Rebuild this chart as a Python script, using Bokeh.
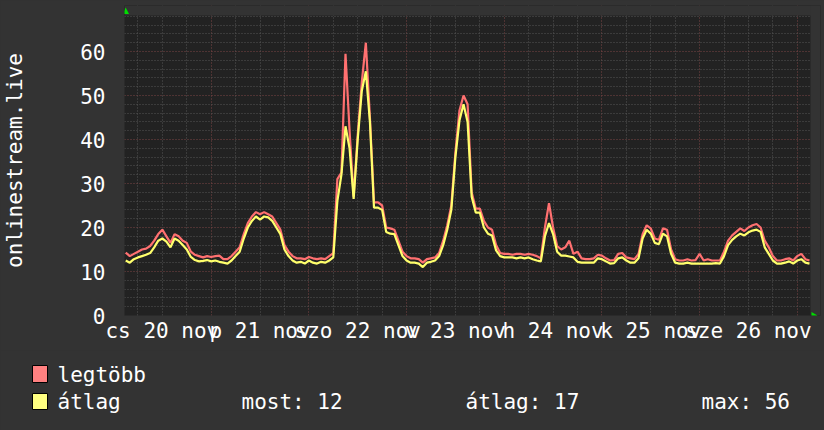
from bokeh.plotting import figure
from bokeh.models import Range1d, FixedTicker, AllLabels
from bokeh.layouts import column
from bokeh.core.properties import value
from bokeh.embed import file_html
from bokeh.resources import INLINE

# hours since 20 nov 00:00
hours = list(range(3, 172))

legtobb = [14.3, 13.5, 14, 14.5, 15, 15.2, 15.8, 17, 18.5, 19.5, 18, 16.5, 18.5, 18, 17, 16.5, 14.5, 13.8, 13.5, 13.2, 13.5, 13.3,
           13.5, 13.6, 12.8, 12.8, 13.5, 14.5, 15.5, 18.5, 21, 22.5, 23.5, 23, 23.5, 23, 22.5, 21, 19.5, 16, 14.5, 13.5, 13, 13, 12.8, 13.3,
           13, 12.8, 13, 12.8, 13.5, 14.2, 31, 32.5, 59.5, 42, 27, 41, 53, 62, 45, 25.7, 25.7, 25, 20, 19.8, 19.5, 17, 14.5, 13.5,
           13, 13, 12.8, 12, 12.8, 13, 13.2, 14.2, 17, 20.5, 25, 37, 46.6, 50, 48, 28, 24.3, 24.3, 21.5, 20, 19.5, 16, 14.2, 14,
           14, 13.8, 14, 14, 13.8, 14, 13.8, 13.5, 13, 20, 25.5, 20, 15.8, 15, 15.5, 17, 14, 14.5, 13, 12.8, 12.8, 13, 13.8, 13.6,
           13, 12.5, 12.6, 14, 14.2, 13.2, 13, 12.8, 14, 18.5, 20.5, 19.8, 17.5, 17.2, 19.8, 19.5, 15, 12.8, 12.5, 12.5, 12.8, 12.5,
           12.6, 14, 12.5, 12.8, 12.5, 12.5, 12.5, 14.5, 17, 18.2, 19, 19.8, 19.2, 20, 20.5, 20.8, 20, 17, 15.5, 13.5, 12.5, 12.5,
           12.8, 13, 12.5, 13.5, 14, 12.8, 12.5]

atlag = [12.5, 12.0, 12.8, 13.2, 13.5, 13.8, 14.2, 15.5, 17.0, 17.5, 16.8, 15.5, 17.5, 17.0, 16.0, 15.0, 13.3, 12.6, 12.3, 12.4,
         12.6, 12.3, 12.5, 12.2, 12.0, 11.8, 12.5, 13.5, 14.5, 17.5, 20.0, 21.5, 22.5, 21.8, 22.5, 22.3, 21.5, 20.0, 18.5, 15.0,
         13.5, 12.5, 12.0, 12.2, 11.8, 12.5, 12.0, 11.8, 12.2, 12.0, 12.5, 13.2, 26.0, 32.0, 43.0, 38.0, 26.5, 40.0, 51.0, 55.5,
         44.0, 24.5, 24.5, 24.0, 19.0, 18.6, 18.5, 16.0, 13.5, 12.5, 12.0, 12.0, 11.8, 11.0, 12.0, 12.2, 12.5, 13.5, 16.0, 19.5,
         24.0, 36.0, 44.3, 48.0, 44.0, 27.0, 23.4, 23.4, 20.0, 18.6, 18.2, 14.8, 13.5, 13.2, 13.2, 13.2, 13.0, 13.2, 13.0, 13.2,
         12.8, 12.5, 12.3, 18.0, 21.0, 18.5, 14.5, 13.6, 13.6, 13.4, 13.2, 12.2, 12.0, 12.0, 12.0, 12.0, 13.0, 12.8, 12.3, 11.8,
         11.9, 13.0, 13.2, 12.5, 12.0, 12.0, 13.0, 17.5, 19.5, 18.6, 16.5, 16.2, 18.6, 18.0, 14.0, 12.0, 11.8, 11.8, 12.0, 11.8,
         11.8, 11.8, 11.8, 11.8, 11.8, 11.9, 11.8, 13.5, 16.0, 17.2, 18.0, 18.6, 18.2, 18.9, 19.3, 19.5, 19.0, 15.5, 14.0, 12.5,
         11.8, 11.8, 12.0, 12.3, 11.8, 12.5, 12.8, 12.0, 11.8]

assert len(hours) == len(legtobb) == len(atlag)

label_hours = [12, 36, 60, 84, 108, 132, 156]
day_labels = ["cs 20 nov", "p 21 nov", "szo 22 nov", "v 23 nov", "h 24 nov", "k 25 nov", "sze 26 nov"]
y_ticks = [0, 10, 20, 30, 40, 50, 60]
day_bounds = [24, 48, 72, 96, 120, 144, 168]
six_hours = [6, 12, 18, 30, 36, 42, 54, 60, 66, 78, 84, 90, 102, 108, 114, 126, 132, 138, 150, 156, 162]
y_minor = [2, 4, 6, 8, 12, 14, 16, 18, 22, 24, 26, 28, 32, 34, 36, 38, 42, 44, 46, 48, 52, 54, 56, 58, 62, 64, 66, 68]

series_names = ["legtöbb", "átlag"]
series_swatch = ["#ff8080", "#ffff80"]
stats_labels = ["most: 12", "átlag: 17", "max: 56"]
y_title = "onlinestream.live"

FS = "21px"
MONO = "DejaVu Sans Mono"
RED = "#ff7070"
YEL = "#ffff6c"
BG = "#333333"
PLOT_BG = "#222222"
BG_STYLE = {"background-color": BG}

# ---- main chart: frame a bit larger than the plotting area (room for the arrows)
W, H = 824, 350
BL, BR, BT, BB = 124, 4, 5, 35
PX_PER_H, PX_PER_U = 4.07, 4.4
X0 = 2.7
X1 = X0 + (W - BL - BR) / PX_PER_H
Y0 = 0
Y1 = (H - BB - BT) / PX_PER_U
X_END = X0 + 686 / PX_PER_H      # right edge of the plotting area
Y_TOP = 300 / PX_PER_U           # top edge of the plotting area

def fx(px):
    return X0 + (px - BL) / PX_PER_H

def fy(py):
    return (H - BB - py) / PX_PER_U

p = figure(width=W, height=H, output_backend="svg", toolbar_location=None,
           x_range=Range1d(X0, X1), y_range=Range1d(Y0, Y1),
           min_border_left=BL, min_border_right=BR, min_border_top=BT, min_border_bottom=BB,
           background_fill_color=PLOT_BG, border_fill_color=BG, outline_line_color=None,
           frame_align=False, styles=BG_STYLE)

for ax in (p.xaxis[0], p.yaxis[0]):
    ax.axis_line_color = None
    ax.major_tick_line_color = None
    ax.minor_tick_line_color = None
    ax.major_label_text_font = MONO
    ax.major_label_text_font_size = FS
    ax.major_label_text_color = "#ffffff"
    ax.major_label_policy = AllLabels()

p.xaxis.ticker = FixedTicker(ticks=label_hours)
p.xaxis.major_label_overrides = {h: t for h, t in zip(label_hours, day_labels)}
p.xaxis.major_label_standoff = -3

p.yaxis.ticker = FixedTicker(ticks=y_ticks)
p.yaxis.major_label_standoff = 13
p.yaxis.axis_label = y_title
p.yaxis.axis_label_text_font = MONO
p.yaxis.axis_label_text_font_size = FS
p.yaxis.axis_label_text_font_style = "normal"
p.yaxis.axis_label_text_color = "#ffffff"
p.yaxis.axis_label_standoff = 50

p.xgrid.ticker = FixedTicker(ticks=day_bounds, minor_ticks=six_hours)
p.ygrid.ticker = FixedTicker(ticks=y_ticks, minor_ticks=y_minor)
for g in (p.xgrid[0], p.ygrid[0]):
    g.grid_line_color = "#7a4444"
    g.grid_line_dash = "1 2"
    g.grid_line_width = 1
    g.minor_grid_line_color = "#555555"
    g.minor_grid_line_dash = "1 2"
    g.minor_grid_line_width = 1

# mask the strips of the frame that lie outside the plotting area
p.quad(left=[X0, X_END], right=[X1, X1], bottom=[Y_TOP, Y0], top=[Y1, Y1],
       fill_color=BG, line_color=None)

p.line(hours, legtobb, line_color=RED, line_width=2.2)
p.line(hours, atlag, line_color=YEL, line_width=2.2)

# green axis arrows
p.patches(xs=[[fx(122), fx(128.5), fx(125.2)], [fx(811), fx(811), fx(817)]],
          ys=[[fy(13.5), fy(13.5), fy(7)], [fy(311.5), fy(318.5), fy(315)]],
          fill_color="#00dd00", line_color=None)

# ---- legend strip below
LH = 430 - H
lg = figure(width=W, height=LH, output_backend="svg", toolbar_location=None,
            x_range=Range1d(0, W), y_range=Range1d(LH, 0),
            min_border=0, min_border_left=0, min_border_right=0, min_border_top=0, min_border_bottom=0,
            background_fill_color=BG, border_fill_color=BG, outline_line_color=None,
            x_axis_location=None, y_axis_location=None, frame_align=False, styles=BG_STYLE)
lg.grid.visible = False

lg.quad(left=[32, 32], right=[47, 47], top=[15, 43], bottom=[32, 59],
        fill_color=series_swatch, line_color="#000000", line_width=1)
lg.text(x=[57, 57], y=[24, 51], text=series_names, text_font=value(MONO), text_font_size=FS,
        text_color="#ffffff", text_baseline="alphabetic", text_align="left")
lg.text(x=[241, 465, 701], y=[51, 51, 51], text=stats_labels, text_font=value(MONO), text_font_size=FS,
        text_color="#ffffff", text_baseline="alphabetic", text_align="left")

layout = column(p, lg, spacing=0, styles=BG_STYLE)
open("out.html", "w").write(file_html(layout, INLINE))
